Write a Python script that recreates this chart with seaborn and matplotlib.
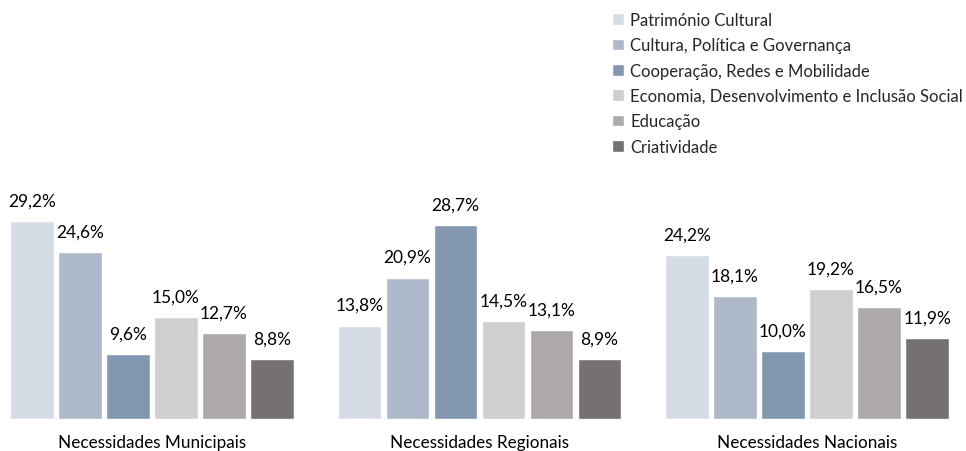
import matplotlib
matplotlib.use("Agg")
import matplotlib.pyplot as plt
import seaborn as sns
import pandas as pd

groups = ["Necessidades Municipais", "Necessidades Regionais", "Necessidades Nacionais"]
series = ["Património Cultural", "Cultura, Política e Governança", "Cooperação, Redes e Mobilidade",
          "Economia, Desenvolvimento e Inclusão Social", "Educação", "Criatividade"]
patrimonio = [29.2, 13.8, 24.2]
cultura = [24.6, 20.9, 18.1]
cooperacao = [9.6, 28.7, 10.0]
economia = [15.0, 14.5, 19.2]
educacao = [12.7, 13.1, 16.5]
criatividade = [8.8, 8.9, 11.9]
colors = ["#D6DCE5", "#ADB9CA", "#8497B0", "#D0CECE", "#AEAAAA", "#767171"]

values = [patrimonio, cultura, cooperacao, economia, educacao, criatividade]
rows = []
for s, vals in zip(series, values):
    for g, v in zip(groups, vals):
        rows.append({"grupo": g, "serie": s, "valor": v})
df = pd.DataFrame(rows)

sns.set_theme(style="white")
plt.rcParams["font.family"] = ["Lato", "DejaVu Sans"]

fig = plt.figure(figsize=(9.66, 4.52), dpi=100)
ax = fig.add_axes([0, 32 / 452, 1, 420 / 452])
sns.barplot(data=df, x="grupo", y="valor", hue="serie", order=groups, hue_order=series,
            palette=colors, width=0.88, gap=0.1, ax=ax, saturation=1, legend=True)

for cont in ax.containers:
    labels = [f"{v:.1f}%".replace(".", ",") for v in cont.datavalues]
    ax.bar_label(cont, labels=labels, padding=9, fontsize=12.5, color="#000000")

ax.set_xlim(-152 / 327.5, (966 - 152) / 327.5)
ax.set_ylim(0, 420 / 6.77)
ax.set_xlabel("")
ax.set_ylabel("")
ax.set_yticks([])
ax.tick_params(axis="x", length=0, labelsize=12.3, pad=11, colors="#000000")
for sp in ax.spines.values():
    sp.set_visible(False)
ax.patch.set_alpha(0)

handles, labs = ax.get_legend_handles_labels()
ax.legend(handles, labs, loc="upper left", bbox_to_anchor=(612 / 966, 1 - 13 / 452),
          bbox_transform=fig.transFigure, frameon=False, fontsize=12,
          handlelength=0.7, handleheight=0.7, handletextpad=0.4, labelspacing=0.56,
          borderaxespad=0, borderpad=0)

fig.savefig("out.png", dpi=100)
